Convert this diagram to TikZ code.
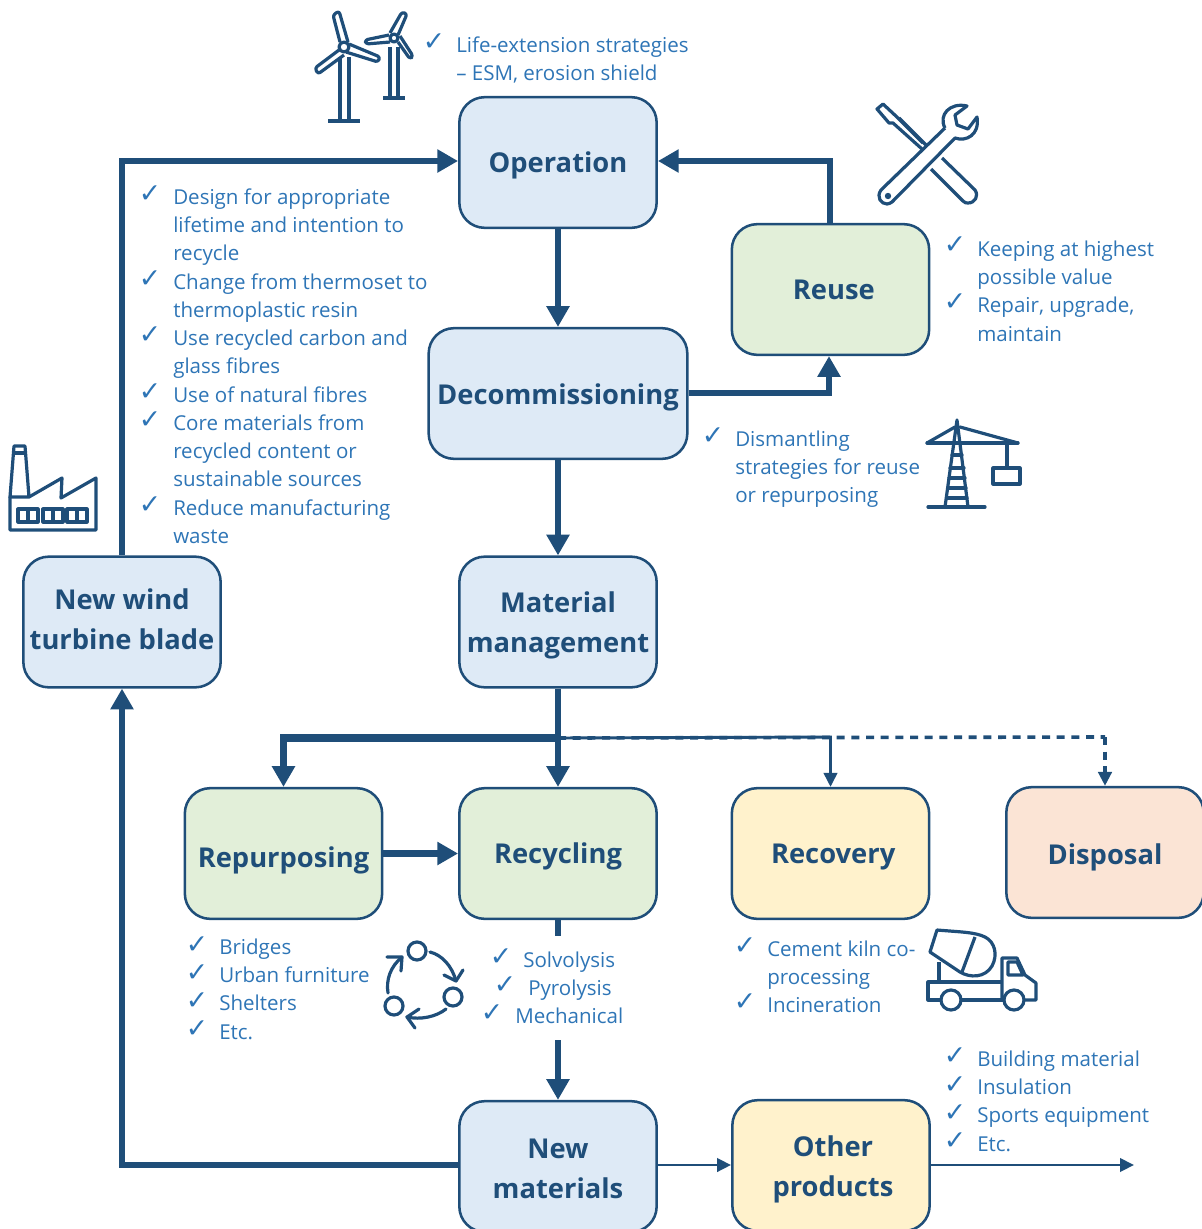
\documentclass[tikz,border=0pt]{standalone}
\usepackage{fontspec}
\setmainfont{Open Sans}
\newfontfamily\chkfont{DejaVu Sans}
\usetikzlibrary{arrows.meta,calc}
\definecolor{dk}{HTML}{1F4E79}
\definecolor{tx}{HTML}{2E75B6}
\definecolor{bl}{HTML}{DEEAF6}
\definecolor{gr}{HTML}{E2EFD9}
\definecolor{ye}{HTML}{FFF2CC}
\definecolor{pe}{HTML}{FBE4D5}
\tikzset{
  box/.style={draw=dk,line width=1.9pt,rounded corners=19pt,minimum width=148pt,minimum height=98pt,inner sep=0pt,align=center,text=dk,font=\fontsize{20.5}{30}\selectfont\bfseries},
  lst/.style={anchor=north west,inner sep=0pt,align=left,text=tx,font=\fontsize{15.4}{21.2}\selectfont,yshift=8.75pt},
  ck/.style={inner sep=0pt,text=tx,font=\chkfont\fontsize{20}{20}\selectfont},
  heavy/.style={draw=dk,line width=4.6pt,-{Triangle[length=15.5pt,width=16.5pt]}},
  heavyplain/.style={draw=dk,line width=4.6pt},
  thinarrow/.style={draw=dk,line width=2.2pt,-{Triangle[length=10.5pt,width=10pt]}},
  dashline/.style={draw=dk,line width=2.7pt,dash pattern=on 6pt off 5pt},
  icon/.style={draw=dk,line width=2.4pt,line join=round},
}
\newcommand{\LL}[4]{\node[lst] (#1) at (#2,#3) {\rule{0pt}{14pt}#4};}
\newcommand{\CK}[3]{\node[ck] (#1) at (#2,#3) {✓};}
% labels with a fixed vertical position: #1 moves the text down by half its value
\newcommand{\SL}[2]{\rule[-11pt]{0pt}{\dimexpr37.5pt+#1\relax}#2}
\newcommand{\TL}[3]{\rule{0pt}{\dimexpr26.5pt+#1\relax}#2\\#3\rule[-11pt]{0pt}{11pt}}
\begin{document}
\begin{tikzpicture}[x=.75pt,y=-.75pt]
\useasboundingbox (0,0) rectangle (1202,1229);
\clip (0,0) rectangle (1202,1229);
% boxes
\node[box,fill=bl] (op) at (558,162.5) {\SL{0pt}{Operation}};
\node[box,fill=bl,minimum width=194pt] (de) at (558,393.5) {\SL{1pt}{Decommissioning}};
\node[box,fill=bl] (mm) at (558,622) {\TL{0pt}{Material}{management}};
\node[box,fill=bl] (nw) at (122,622) {\TL{-4.5pt}{New wind}{turbine blade}};
\node[box,fill=gr] (re) at (830.5,289.5) {\SL{0pt}{\hspace*{5pt}Reuse}};
\node[box,fill=gr] (rp) at (283.5,853.5) {\SL{5pt}{Repurposing}};
\node[box,fill=gr] (rc) at (558,853.5) {\SL{0pt}{Recycling}};
\node[box,fill=ye] (rv) at (830.5,853.5) {\SL{0pt}{\hspace*{4pt}Recovery}};
\node[box,fill=pe] (di) at (1105,852.5) {\SL{2pt}{Disposal}};
\node[box,fill=bl] (nm) at (558,1166.5) {\TL{3pt}{New}{materials}};
\node[box,fill=ye] (ot) at (831,1165.5) {\TL{1.5pt}{\hspace*{3pt}Other}{\hspace*{3pt}products}};
\node[inner sep=0pt,minimum width=10pt,minimum height=78pt] (gap) at (558,988) {};
% connector helpers
\coordinate (c1) at (122,161);
\coordinate (c2) at (830,161);
\coordinate (c3) at (829,393);
\coordinate (c4) at (558,738);
\coordinate (c5) at (283.5,738);
\coordinate (c6) at (830.5,737);
\coordinate (c7) at (1105,737);
\coordinate (c8) at (122,1165);
\coordinate (c9) at (1134,1165);
% connectors
\draw[heavy] (nw.north) -- (c1) -- (op.west |- c1);
\draw[heavy] (re.north -| c2) -- (c2) -- (op.east |- c2);
\draw[heavy] (op.south) -- (de.north);
\draw[heavy] (de.south) -- (mm.north);
\draw[heavy] (de.east |- c3) -- (c3) -- (re.south -| c3);
\draw[thinarrow] (c4) -- (c6) -- (rv.north);
\draw[dashline] (c4) -- (c7);
\draw[dashline,-{Triangle[length=10.5pt,width=10pt]}] (c7) -- (di.north);
\draw[heavy] (mm.south) -- (rc.north);
\draw[heavy,line width=5.4pt] (c4) -- (c5) -- (rp.north);
\draw[heavy,line width=5.2pt] (rp.east) -- (rc.west);
\draw[heavyplain,line width=5pt] (rc.south) -- (gap.north);
\draw[heavy,line width=5pt] (gap.south) -- (nm.north);
\draw[heavy] (nm.west |- c8) -- (c8) -- (nw.south);
\draw[thinarrow] (nm.east |- c8) -- (ot.west |- c8);
\draw[thinarrow] (ot.east |- c8) -- (c9);
% lists
\CK{k1}{434}{42}
\LL{t1}{456}{45}{Life-extension strategies\\– ESM, erosion shield}
\CK{k2}{150}{194}\CK{k3}{150}{279}\CK{k4}{150}{335}\CK{k5}{150}{392}\CK{k6}{150}{420}\CK{k7}{150}{505}
\LL{t2}{173}{197}{Design for appropriate\\lifetime and intention to\\recycle\\Change from thermoset to\\thermoplastic resin\\Use recycled carbon and\\glass fibres\\Use of natural fibres\\Core materials from\\recycled content or\\sustainable sources\\Reduce manufacturing\\waste}
\CK{k8}{955}{245}\CK{k9}{955}{302}
\LL{t3}{977}{249}{Keeping at highest\\possible value\\Repair, upgrade,\\maintain}
\CK{k10}{713}{436}
\LL{t4}{735}{439}{Dismantling\\strategies for reuse\\or repurposing}
\CK{k11}{197}{945}\CK{k12}{197}{973}\CK{k13}{197}{1001}\CK{k14}{197}{1029}
\LL{t5}{219}{947}{Bridges\\Urban furniture\\Shelters\\Etc.}
\CK{k15}{501}{957}\CK{k16}{505}{985}\CK{k17}{492}{1013}
\LL{t6}{523}{960}{Solvolysis}
\LL{t7}{528}{988}{Pyrolysis}
\LL{t8}{515}{1016}{Mechanical}
\CK{k18}{745}{946}\CK{k19}{745}{1002}
\LL{t9}{767}{949}{Cement kiln co-\\processing\\Incineration}
\CK{k20}{955}{1056}\CK{k21}{955}{1085}\CK{k22}{955}{1113}\CK{k23}{955}{1141}
\LL{t10}{977}{1059}{Building material\\Insulation\\Sports equipment\\Etc.}
% turbines
\begin{scope}[icon,rounded corners=2pt]
\draw (340,42) -- (333,15) -- (339,11) -- (348,42);
\draw (349,44) -- (380,57) -- (378,62) -- (346,52);
\draw (339,50) -- (315,68) -- (318,74) -- (344,55);
\draw (340,57) -- (340,121) (349,57) -- (349,121);
\draw (328,121) -- (360,121);
\draw (344,47) circle (5);
\draw (390,33) -- (402,12) -- (407,14) -- (398,35);
\draw (389,35) -- (365,40) -- (366,44) -- (390,42);
\draw (398,42) -- (410,59) -- (413,56) -- (400,36);
\draw (390,47) -- (390,98) (398,47) -- (398,98);
\draw (383,98) -- (405,98);
\draw (394,38) circle (4);
\end{scope}
% tools
\begin{scope}[icon]
\draw (923,143) -- (898,118) -- (883,104) -- (877,109) -- (889,123) -- (893,123) -- (922,149);
\draw (899,118) -- (926,145);
\draw (942,158) -- (975,190) .. controls (979,196) and (975,203) .. (968,203) .. controls (966,203) and (965,203) .. (963,201) -- (931,169);
\draw (945,128) -- (881,190) .. controls (876,197) and (881,204) .. (887,204) .. controls (889,204) and (890,203) .. (892,202) -- (955,138) .. controls (966,142) and (980,135) .. (977,117) -- (968,129) -- (957,125) -- (955,115) -- (967,106) .. controls (950,102) and (938,115) .. (945,128);
\fill[dk] (888,196) circle (3.2);
\end{scope}
% crane
\begin{scope}[icon,line cap=round]
\draw (957,420) -- (945,507) (957,420) -- (968,507);
\draw (928,507) -- (985,507);
\draw (927,443) -- (1018,443);
\draw (927,443) -- (955,427) (960,427) -- (1018,443);
\draw (952,455) -- (962,455) (950,468) -- (964,468) (949,478) -- (965,478) (948,488) -- (966,488) (947,498) -- (967,498);
\draw (1007,443) -- (1007,468);
\draw (993,468) rectangle (1020,484);
\end{scope}
% factory
\begin{scope}[icon]
\draw (14,446) -- (25,446) -- (29,497) -- (10,497) -- cycle;
\draw (13,453) -- (26,453);
\draw (10,497) -- (10,530) -- (96,530) -- (96,478) -- (61,498) -- (62,478) -- (29,497);
\draw (18,509) rectangle (38,522) (28,509) -- (28,522);
\draw (43,509) rectangle (63,522) (53,509) -- (53,522);
\draw (67,509) rectangle (87,522) (77,509) -- (77,522);
\end{scope}
% cycle
\begin{scope}[icon,line cap=round]
\draw (417,951) circle (9) (453,997) circle (9) (394,1006) circle (9);
\draw (430,952) .. controls (442,955) and (452,966) .. (456,981);
\draw (444,975) -- (456,981) -- (463,970);
\draw (446,1009) .. controls (436,1017) and (420,1020) .. (407,1017);
\draw (419,1009) -- (407,1017) -- (415,1028);
\draw (388,993) .. controls (386,980) and (390,967) .. (402,957);
\draw (387,957) -- (402,957) -- (401,971);
\end{scope}
% truck
\begin{scope}[icon]
\draw (937,930) -- (930,952) -- (960,972) .. controls (970,978) and (985,978) .. (992,966) .. controls (998,955) and (995,942) .. (985,937) .. controls (975,932) and (960,932) .. (937,930) -- cycle;
\draw (975,937) -- (962,972);
\draw (939,962) -- (939,982);
\draw (941,1000) -- (928,1000) -- (928,982) -- (1002,982);
\draw (961,1000) -- (1004,1000);
\draw (1002,998) -- (1002,958) -- (1017,958) -- (1025,975) -- (1036,983) -- (1036,1000) -- (1024,1000);
\draw (1008,962) -- (1017,962) -- (1023,975) -- (1008,975) -- cycle;
\draw (951,1000) circle (10) (1014,1000) circle (10);
\end{scope}
\end{tikzpicture}
\end{document}
